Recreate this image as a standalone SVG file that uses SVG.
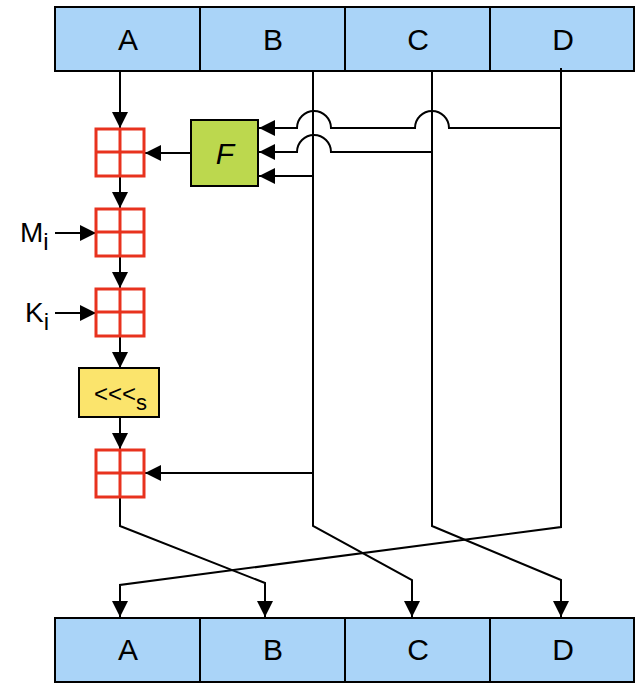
<svg xmlns="http://www.w3.org/2000/svg" width="640" height="686" viewBox="0 0 640 686">
<defs>
<marker id="ah" markerUnits="userSpaceOnUse" markerWidth="16" markerHeight="16" refX="16" refY="8" orient="auto"><path d="M0,0 L16,8 L0,16 z" fill="#000"/></marker>
</defs>
<style>
.cell{fill:#aad4f8;stroke:#000;stroke-width:2}
.t{font-family:"Liberation Sans",Arial,sans-serif;font-size:30px;text-anchor:middle}
.add rect,.add line{fill:#fff;stroke:#e8321e;stroke-width:3}
.c{fill:none;stroke:#000;stroke-width:2}
.a{marker-end:url(#ah)}
</style>
<rect width="640" height="686" fill="#fff"/>
<g id="top">
<rect class="cell" x="55" y="7" width="145" height="64"/><rect class="cell" x="200" y="7" width="145" height="64"/><rect class="cell" x="345" y="7" width="145" height="64"/><rect class="cell" x="490" y="7" width="144" height="64"/>
<text class="t" x="128" y="50">A</text><text class="t" x="273" y="50">B</text><text class="t" x="418" y="50">C</text><text class="t" x="563" y="50">D</text>
</g>
<g id="bottom">
<rect class="cell" x="55" y="618" width="145" height="64"/><rect class="cell" x="200" y="618" width="145" height="64"/><rect class="cell" x="345" y="618" width="145" height="64"/><rect class="cell" x="490" y="618" width="144" height="64"/>
<text class="t" x="128" y="660">A</text><text class="t" x="273" y="660">B</text><text class="t" x="418" y="660">C</text><text class="t" x="563" y="660">D</text>
</g>
<g id="connectors">
<path class="c a" d="M120,72 V128"/>
<path class="c a" d="M120,176 V208"/>
<path class="c a" d="M120,256 V288"/>
<path class="c a" d="M120,336 V368"/>
<path class="c a" d="M120,417 V449"/>
<path class="c a" d="M191,153 H145"/>
<path class="c a" d="M561,68 V128 H449 A17,17 0 0 0 415,128 H331 A17,17 0 0 0 297,128 H259"/>
<path class="c a" d="M432,72 V152 H331 A17,17 0 0 0 297,152 H259"/>
<path class="c a" d="M313,176 H259"/>
<path class="c a" d="M313,473 H145"/>
<path class="c" d="M313,72 V473"/>
<path class="c a" d="M55,233 H96"/>
<path class="c a" d="M55,313 H96"/>
<path class="c a" d="M120,497 V526 L265,583 V617"/>
<path class="c a" d="M313,473 V526 L412,580 V617"/>
<path class="c a" d="M432,152 V526 L561,580 V617"/>
<path class="c a" d="M561,128 V527 L120,585 V617"/>
</g>
<g id="add1" class="add"><rect x="96" y="129" width="48" height="47"/><line x1="120" y1="129" x2="120" y2="176"/><line x1="96" y1="152" x2="144" y2="152"/></g>
<g id="add2" class="add"><rect x="96" y="209" width="48" height="47"/><line x1="120" y1="209" x2="120" y2="256"/><line x1="96" y1="232" x2="144" y2="232"/></g>
<g id="add3" class="add"><rect x="96" y="289" width="48" height="47"/><line x1="120" y1="289" x2="120" y2="336"/><line x1="96" y1="312" x2="144" y2="312"/></g>
<g id="add4" class="add"><rect x="96" y="450" width="48" height="47"/><line x1="120" y1="450" x2="120" y2="497"/><line x1="96" y1="473" x2="144" y2="473"/></g>
<g id="F"><rect x="191" y="120" width="67" height="66" fill="#bcd84e" stroke="#000" stroke-width="2"/><text class="t" x="225" y="164" font-style="italic">F</text></g>
<g id="rot"><rect x="79" y="368" width="80" height="49" fill="#fbe46c" stroke="#000" stroke-width="2"/><text x="94" y="402" font-family="Liberation Sans,Arial,sans-serif" font-size="24">&lt;&lt;&lt;<tspan font-size="22" dy="8">s</tspan></text></g>
<g id="Mi"><text x="20" y="242" font-family="Liberation Sans,Arial,sans-serif" font-size="28">M<tspan font-size="24" dy="8">i</tspan></text></g>
<g id="Ki"><text x="25" y="322" font-family="Liberation Sans,Arial,sans-serif" font-size="28">K<tspan font-size="24" dy="8">i</tspan></text></g>
</svg>
